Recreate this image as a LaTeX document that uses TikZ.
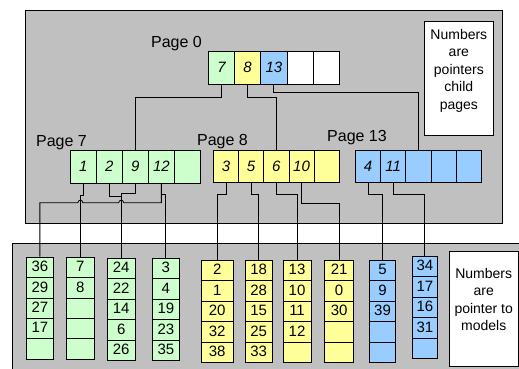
\documentclass[tikz,border=0pt]{standalone}
\usepackage{fontspec}
\setmainfont{Liberation Sans}
\usetikzlibrary{positioning}
\tikzstyle{sketch} = [x = 1pt, y = -1pt]
\definecolor{panelGray}{RGB}{192,192,192}
\definecolor{greenCell}{RGB}{204,255,204}
\definecolor{yellowCell}{RGB}{255,255,153}
\definecolor{blueCell}{RGB}{153,204,255}
\tikzstyle{panelStyle} = [draw=black, fill=panelGray, line width=.9pt]
\tikzstyle{pageCellStyle} = [draw=black, line width=.7pt, anchor=north west, inner sep=0pt, minimum height=32.5pt, font=\fontsize{15}{15}\selectfont\itshape]
\tikzstyle{leafCellStyle} = [draw=black, line width=.7pt, anchor=north west, inner sep=0pt, minimum height=20.4pt, text height=10.7pt, text depth=2pt, font=\fontsize{15}{15}\selectfont]
\tikzstyle{pageLabel} = [inner sep=0pt, font=\fontsize{16}{16}\selectfont]
\tikzstyle{noteStyle} = [draw=black, fill=white, line width=.7pt, anchor=north west, inner sep=0pt, font=\fontsize{14}{17.5}\selectfont]
\tikzstyle{linkLine} = [black, line width=.8pt]
\newcommand{\pageCell}[6]{\node [pageCellStyle, fill=#5, minimum width=#4pt] (#1) at (#2, #3) {#6};}
\newcommand{\pageRow}[6]{
  \foreach \entry [count=\i] in {#6} {
    \pgfmathsetmacro{\cellLeft}{#2 + (\i - 1) * #4}
    \pageCell{#1-\i}{\cellLeft}{#3}{#4}{#5}{\entry}
  }
}
\newcommand{\leafColumn}[6]{
  \foreach \entry [count=\i] in {#6} {
    \pgfmathsetmacro{\cellTop}{#3 + (\i - 1) * 20.4}
    \node [leafCellStyle, fill=#5, minimum width=#4pt] (#1-\i) at (#2, \cellTop) {\entry};
  }
}

\begin{document}
\begin{tikzpicture}[sketch]
      \useasboundingbox (0, 0) rectangle (519, 369);
      \clip (0, 0) rectangle (519, 369);
      \filldraw [panelStyle] (25, 10) rectangle (502, 223);
      \filldraw [panelStyle] (12.7, 243) rectangle (530, 380);

      \node [noteStyle] (childNote) at (424, 21) {\parbox[t][114pt][t]{69pt}{\centering\vspace*{8pt}Numbers\\are\\pointers\\child\\pages}};
      \node [noteStyle] (modelNote) at (449, 251) {\parbox[t][114.7pt][t]{68.7pt}{\centering\vspace*{17pt}Numbers\\are\\pointer to\\models}};

      \pageCell{p0-1}{208}{51}{26.2}{greenCell}{7}\pageCell{p0-2}{234.2}{51}{26.2}{yellowCell}{8}\pageCell{p0-3}{260.4}{51}{26.2}{blueCell}{13}\pageCell{p0-4}{286.6}{51}{26.2}{white}{}\pageCell{p0-5}{312.8}{51}{26.2}{white}{}
      \pageRow{p7}{70}{150}{26}{greenCell}{1,2,9,12,{}}
      \pageRow{p8}{213}{149.5}{25.2}{yellowCell}{3,5,6,10,{}}
      \pageRow{p13}{355}{149.5}{25.2}{blueCell}{4,11,{},{},{}}

      \node [pageLabel, above left=0pt and 6pt of p0-1.north west] (p0Label) {Page 0};
      \node [pageLabel, above left=0pt and -17pt of p7-1.north west] (p7Label) {Page 7};
      \node [pageLabel, above left=0pt and -35pt of p8-1.north west] (p8Label) {Page 8};
      \node [pageLabel, above left=4pt and -32pt of p13-1.north west] (p13Label) {Page 13};

      \leafColumn{leafA}{25.7}{256.7}{27.6}{greenCell}{36,29,27,17,{}}\leafColumn{leafB}{66}{256.7}{28}{greenCell}{7,8,{},{},{}}\leafColumn{leafC}{106.7}{258}{28.3}{greenCell}{24,22,14,6,26}\leafColumn{leafD}{151.7}{258}{27.6}{greenCell}{3,4,19,23,35}
      \leafColumn{leafE}{201}{260}{31.7}{yellowCell}{2,1,20,32,38}\leafColumn{leafF}{245}{260}{26.7}{yellowCell}{18,28,15,25,33}\leafColumn{leafG}{282.7}{260}{28}{yellowCell}{13,10,11,12,{}}\leafColumn{leafH}{324.3}{260}{29}{yellowCell}{21,0,30,{},{}}
      \leafColumn{leafI}{369.3}{260}{25.7}{blueCell}{5,9,39,{},{}}\leafColumn{leafJ}{411.7}{256}{25.6}{blueCell}{34,17,16,31,{}}

      \draw [linkLine] (p0-1.south) -- ++ (0, 13) -| (p7-3.north);
      \draw [linkLine] (p0-2.south) -- ++ (0, 13) -| (p8-3.north);
      \draw [linkLine] (p0-3.south) -- ++ (0, 8) -| (p13-3.north);

      \coordinate (hopRow) at (0, 202.7);
      \draw [linkLine] (p7-1.south) -- ++ (0, 12) -| (leafB-1.north);
      \draw [linkLine] (p7-2.south) -- ++ (0, 13) -| (leafC-1.north);
      \draw [linkLine] (p7-3.south) -- ++ (0, 9.7) -| (leafC-1.north);
      \draw [linkLine] (p7-4.south) -- ++ (0, 11) -| (leafD-1.north);
      \draw [linkLine] (p7-4.south) |- ([xshift=2.5pt]leafC-1.north |- hopRow) arc [start angle=0, end angle=180, radius=2.5pt] -- ([xshift=2.5pt]leafB-1.north |- hopRow) arc [start angle=0, end angle=180, radius=2.5pt] -| (leafA-1.north);

      \draw [linkLine] (p8-1.south) -- ++ (0, 11.7) -| (leafE-1.north);
      \draw [linkLine] (p8-2.south) -- ++ (0, 11.7) -| (leafF-1.north);
      \draw [linkLine] (p8-3.south) -- ++ (0, 11.7) -| (leafG-1.north);
      \draw [linkLine] (p8-4.south) -- ++ (0, 20.3) -| (leafH-1.north);

      \draw [linkLine] (p13-1.south) -- ++ (0, 11.7) -| (leafI-1.north);
      \draw [linkLine] (p13-2.south) -- ++ (0, 11.7) -| (leafJ-1.north);
    \end{tikzpicture}
\end{document}
